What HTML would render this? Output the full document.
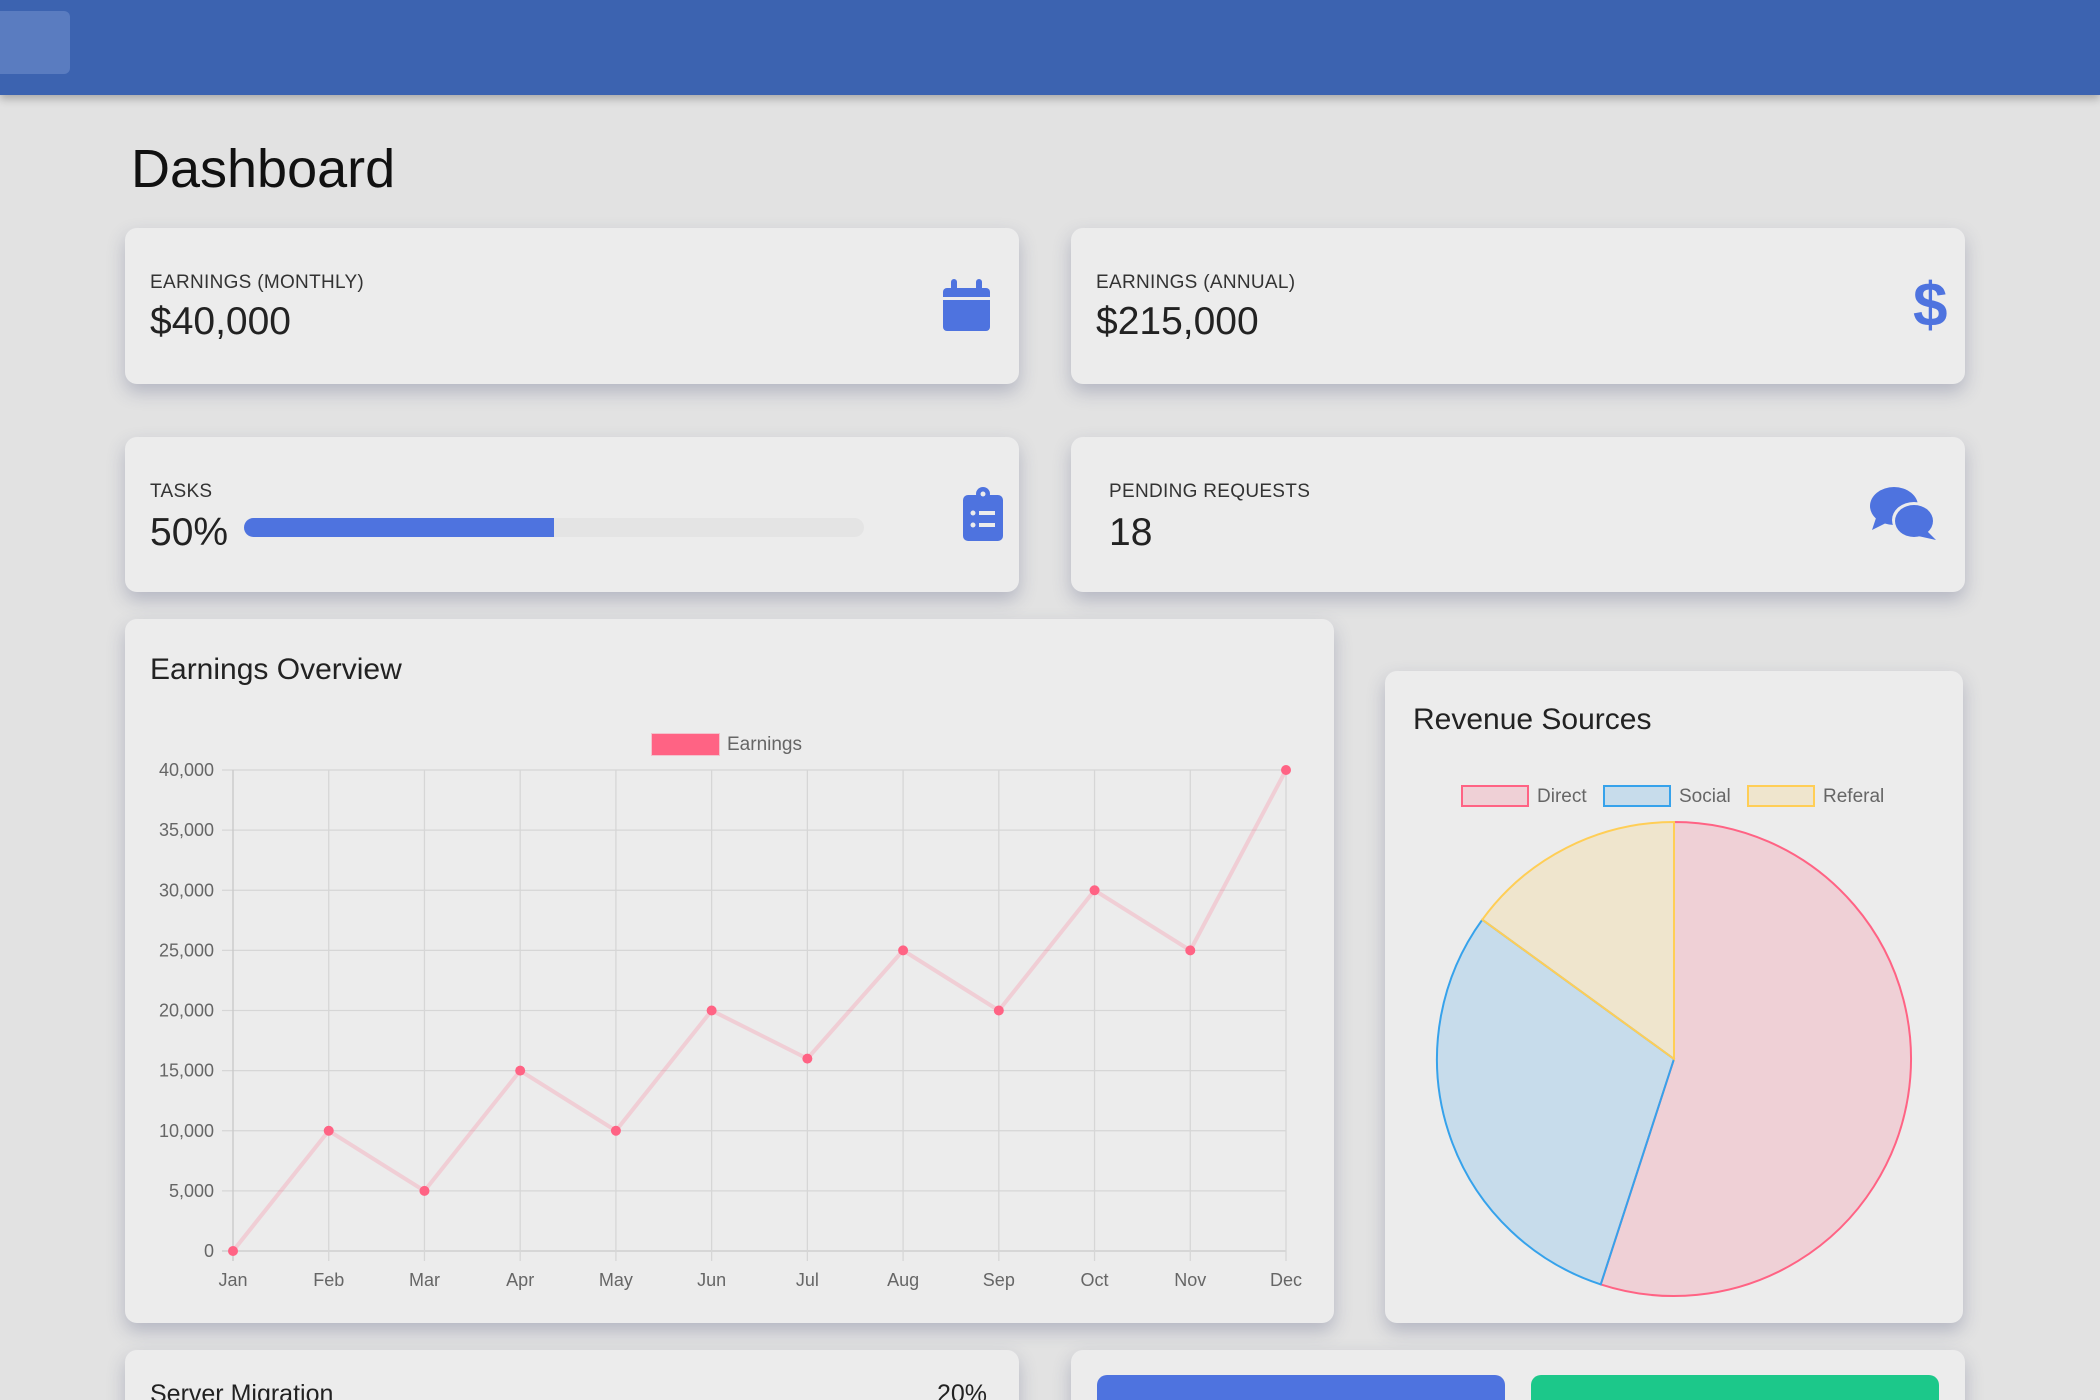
<!DOCTYPE html>
<html><head><meta charset="utf-8">
<style>
html,body{margin:0;width:2100px;height:1400px;overflow:hidden}
body{background:#e2e2e2;font-family:"Liberation Sans",sans-serif;color:#222}
#wrap{position:relative;width:2100px;height:1400px;overflow:hidden}
.abs{position:absolute}
.nav{left:0;top:0;width:2100px;height:95px;background:#3c63b0;box-shadow:0 4px 8px rgba(0,0,0,.25)}
.navbtn{left:0;top:11px;width:70px;height:63px;background:#5a7cc0;border-radius:0 6px 6px 0}
.card{background:#ececec;border-radius:12px;box-shadow:0 8px 18px rgba(60,70,110,.28)}
.lbl{font-size:19px;color:#333;letter-spacing:.3px}
.val{font-size:39px;color:#222}
</style></head><body>
<div id="wrap">
<div class="abs nav"></div>
<div class="abs navbtn"></div>
<div class="abs" style="left:131px;top:138px;font-size:54px;color:#111">Dashboard</div>

<div class="abs card" style="left:125px;top:228px;width:894px;height:156px">
 <div class="abs lbl" style="left:25px;top:44px">EARNINGS (MONTHLY)</div>
 <div class="abs val" style="left:25px;top:72px">$40,000</div>
 <svg class="abs" style="left:818px;top:51px" width="47" height="52"><rect x="0" y="9" width="47" height="43" rx="4" fill="#4e73df"/><rect x="8" y="0" width="6" height="14" rx="3" fill="#4e73df"/><rect x="33" y="0" width="6" height="14" rx="3" fill="#4e73df"/><rect x="0" y="18" width="47" height="3" fill="#ececec"/></svg>
</div>
<div class="abs card" style="left:1071px;top:228px;width:894px;height:156px">
 <div class="abs lbl" style="left:25px;top:44px">EARNINGS (ANNUAL)</div>
 <div class="abs val" style="left:25px;top:72px">$215,000</div>
 <div class="abs" style="left:842px;top:42px;font-size:62px;font-weight:bold;color:#4e73df">$</div>
</div>
<div class="abs card" style="left:125px;top:437px;width:894px;height:155px">
 <div class="abs lbl" style="left:25px;top:44px">TASKS</div>
 <div class="abs val" style="left:25px;top:74px">50%</div>
 <div class="abs" style="left:119px;top:81px;width:620px;height:19px;background:#e4e4e4;border-radius:10px;overflow:hidden"><div style="width:310px;height:19px;background:#4e73df"></div></div>
 <svg class="abs" style="left:838px;top:50px" width="40" height="54"><rect x="0" y="8" width="40" height="46" rx="5" fill="#4e73df"/><circle cx="20" cy="7" r="7" fill="#4e73df"/><circle cx="20" cy="7" r="2.5" fill="#ececec"/><circle cx="10" cy="26" r="2.5" fill="#ececec"/><rect x="16" y="24" width="16" height="4" fill="#ececec"/><circle cx="10" cy="38" r="2.5" fill="#ececec"/><rect x="16" y="36" width="16" height="4" fill="#ececec"/></svg>
</div>
<div class="abs card" style="left:1071px;top:437px;width:894px;height:155px">
 <div class="abs lbl" style="left:38px;top:44px">PENDING REQUESTS</div>
 <div class="abs val" style="left:38px;top:74px">18</div>
 <svg class="abs" style="left:799px;top:49px" width="68" height="56"><ellipse cx="24" cy="20" rx="24" ry="19" fill="#4e73df"/><path d="M6 32 L2 44 L18 36Z" fill="#4e73df"/><ellipse cx="44" cy="34" rx="22" ry="18" fill="#ececec"/><ellipse cx="44" cy="35" rx="19" ry="16" fill="#4e73df"/><path d="M56 44 L66 54 L48 50Z" fill="#4e73df"/></svg>
</div>

<div class="abs card" style="left:125px;top:619px;width:1209px;height:704px">
 <div class="abs" style="left:25px;top:34px;font-size:30px;color:#222">Earnings Overview</div>
</div>
<svg class="abs" style="left:0;top:0" width="2100" height="1400" id="chart"></svg>

<div class="abs card" style="left:1385px;top:671px;width:578px;height:652px">
 <div class="abs" style="left:28px;top:32px;font-size:30px;color:#222">Revenue Sources</div>
</div>
<svg class="abs" style="left:0;top:0" width="2100" height="1400" id="pie"></svg>

<div class="abs card" style="left:125px;top:1350px;width:894px;height:100px">
 <div class="abs" style="left:25px;top:30px;font-size:25px">Server Migration</div>
 <div class="abs" style="left:812px;top:30px;font-size:25px">20%</div>
</div>
<div class="abs card" style="left:1071px;top:1350px;width:894px;height:100px">
 <div class="abs" style="left:26px;top:25px;width:408px;height:80px;background:#4e73df;border-radius:10px"></div>
 <div class="abs" style="left:460px;top:25px;width:408px;height:80px;background:#1cc88a;border-radius:10px"></div>
</div>
</div>

<script>
const months=["Jan","Feb","Mar","Apr","May","Jun","Jul","Aug","Sep","Oct","Nov","Dec"];
const earnings=[0,10000,5000,15000,10000,20000,16000,25000,20000,30000,25000,40000];
const yTicks=[0,5000,10000,15000,20000,25000,30000,35000,40000];
const seriesName="Earnings";
const pieLabels=["Direct","Social","Referal"];
const pieValues=[55,30,15];

const NS="http://www.w3.org/2000/svg";
function mk(svg,tag,attrs,txt){const e=document.createElementNS(NS,tag);for(const k in attrs)e.setAttribute(k,attrs[k]);if(txt!==undefined)e.textContent=txt;svg.appendChild(e);return e;}
const c=document.getElementById('chart');
const X0=233,X1=1286,Y0=1251,Y1=770,YMAX=40000;
const xs=i=>X0+(X1-X0)*i/(months.length-1);
const ys=v=>Y0-(Y0-Y1)*v/YMAX;
yTicks.forEach(t=>{
 const l=mk(c,'line',{x1:222,x2:X1,y1:ys(t),y2:ys(t),stroke:t===0?'#c8c8c8':'#d6d6d6','stroke-width':1.3});
 
 
 const tx=mk(c,'text',{x:214,y:ys(t)+6,'text-anchor':'end','font-size':18,fill:'#666','font-family':'Liberation Sans,sans-serif'},t.toLocaleString('en-US'));
 
 
});
months.forEach((m,i)=>{
 const l=mk(c,'line',{x1:xs(i),x2:xs(i),y1:Y1,y2:Y0+10,stroke:i===0?'#c8c8c8':'#d6d6d6','stroke-width':1.3});
 
 
 const tx=mk(c,'text',{x:xs(i),y:1286,'text-anchor':'middle','font-size':18,fill:'#666','font-family':'Liberation Sans,sans-serif'},m);
 
 
});
const pl=mk(c,'polyline',{points:earnings.map((v,i)=>xs(i)+','+ys(v)).join(' '),fill:'none',stroke:'rgba(255,99,132,0.22)','stroke-width':4});


earnings.forEach((v,i)=>{
 const p=mk(c,'circle',{cx:xs(i),cy:ys(v),r:5,fill:'#ff6384'});
 
 
});
const lb=mk(c,'rect',{x:652,y:734,width:67,height:21,fill:'#ff6384','stroke':'rgba(255,99,132,0.3)','stroke-width':2});


const lt=mk(c,'text',{x:727,y:750,'font-size':19,fill:'#666','font-family':'Liberation Sans,sans-serif'},seriesName);



const p=document.getElementById('pie');
const fills=['rgba(255,99,132,0.2)','rgba(54,162,235,0.2)','rgba(255,206,86,0.2)'];
const strokes=['#ff6384','#36a2eb','#ffce56'];
const CX=1674,CY=1059,R=237;
const tot=pieValues.reduce((a,b)=>a+b,0);
let a0=0;
pieValues.forEach((v,i)=>{
 const a1=a0+v/tot*2*Math.PI;
 const x0=CX+R*Math.sin(a0),y0=CY-R*Math.cos(a0),x1=CX+R*Math.sin(a1),y1=CY-R*Math.cos(a1);
 const s=mk(p,'path',{d:`M${CX},${CY} L${x0},${y0} A${R},${R} 0 ${a1-a0>Math.PI?1:0} 1 ${x1},${y1} Z`,fill:fills[i],stroke:strokes[i],'stroke-width':2});
 
 
 a0=a1;
});
const legX=[1462,1604,1748];
pieLabels.forEach((n,i)=>{
 const r=mk(p,'rect',{x:legX[i],y:786,width:66,height:20,fill:fills[i],stroke:strokes[i],'stroke-width':2});
 
 
 const t=mk(p,'text',{x:legX[i]+75,y:802,'font-size':19,fill:'#666','font-family':'Liberation Sans,sans-serif'},n);
 
 
});
</script>
</body></html>
